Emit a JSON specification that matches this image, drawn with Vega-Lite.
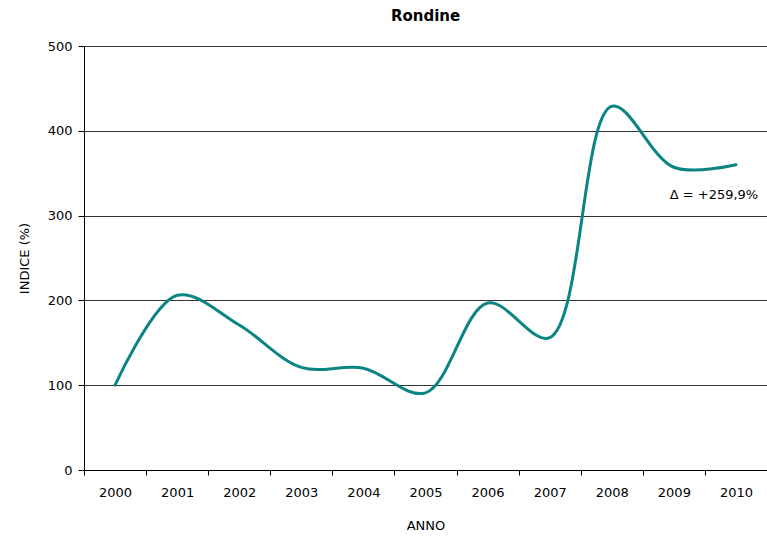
{
  "$schema": "https://vega.github.io/schema/vega-lite/v6.json",
  "width": 683,
  "height": 424,
  "autosize": {"type": "none"},
  "padding": {"left": 84, "top": 46, "right": 0, "bottom": 68},
  "background": "white",
  "title": {
    "text": "Rondine",
    "font": "DejaVu Sans",
    "fontSize": 15,
    "fontWeight": "bold",
    "color": "black",
    "anchor": "middle",
    "offset": 16
  },
  "config": {
    "view": {"stroke": null},
    "font": "DejaVu Sans"
  },
  "data": {
    "values": [
      {"anno": "2000", "indice": 100.0, "nota": ""},
      {"anno": "2001", "indice": 206.0, "nota": ""},
      {"anno": "2002", "indice": 171.0, "nota": ""},
      {"anno": "2003", "indice": 121.0, "nota": ""},
      {"anno": "2004", "indice": 120.0, "nota": ""},
      {"anno": "2005", "indice": 91.0, "nota": ""},
      {"anno": "2006", "indice": 197.0, "nota": ""},
      {"anno": "2007", "indice": 156.0, "nota": ""},
      {"anno": "2008", "indice": 429.0, "nota": ""},
      {"anno": "2009", "indice": 357.0, "nota": ""},
      {"anno": "2010", "indice": 359.9, "nota": "Δ = +259,9%"}
    ]
  },
  "encoding": {
    "x": {
      "field": "anno",
      "type": "ordinal",
      "scale": {"type": "band", "paddingInner": 0, "paddingOuter": 0},
      "axis": {
        "title": "ANNO",
        "titleFont": "DejaVu Sans",
        "titleFontSize": 13,
        "titleFontWeight": "normal",
        "titleColor": "black",
        "titlePadding": 20,
        "labelAngle": 0,
        "labelFont": "DejaVu Sans",
        "labelFontSize": 13,
        "labelColor": "black",
        "labelPadding": 11,
        "tickBand": "extent",
        "tickSize": 5,
        "tickColor": "black",
        "domainColor": "black",
        "domainWidth": 1,
        "grid": false
      }
    },
    "y": {
      "field": "indice",
      "type": "quantitative",
      "scale": {"domain": [0, 500], "nice": false},
      "axis": {
        "title": "INDICE (%)",
        "titleFont": "DejaVu Sans",
        "titleFontSize": 13,
        "titleFontWeight": "normal",
        "titleColor": "black",
        "titlePadding": 16,
        "values": [0, 100, 200, 300, 400, 500],
        "labelFont": "DejaVu Sans",
        "labelFontSize": 13,
        "labelColor": "black",
        "labelPadding": 6,
        "tickSize": 6,
        "tickColor": "black",
        "domainColor": "black",
        "grid": true,
        "gridColor": "#333333",
        "gridWidth": 1,
        "gridOpacity": 1
      }
    }
  },
  "layer": [
    {
      "mark": {
        "type": "line",
        "interpolate": "catmull-rom",
        "color": "#0b8484",
        "strokeWidth": 3,
        "strokeCap": "round"
      }
    },
    {
      "mark": {
        "type": "text",
        "align": "center",
        "baseline": "middle",
        "dx": -22,
        "dy": 30,
        "font": "DejaVu Sans",
        "fontSize": 13,
        "color": "black"
      },
      "encoding": {
        "text": {"field": "nota"}
      }
    }
  ]
}
